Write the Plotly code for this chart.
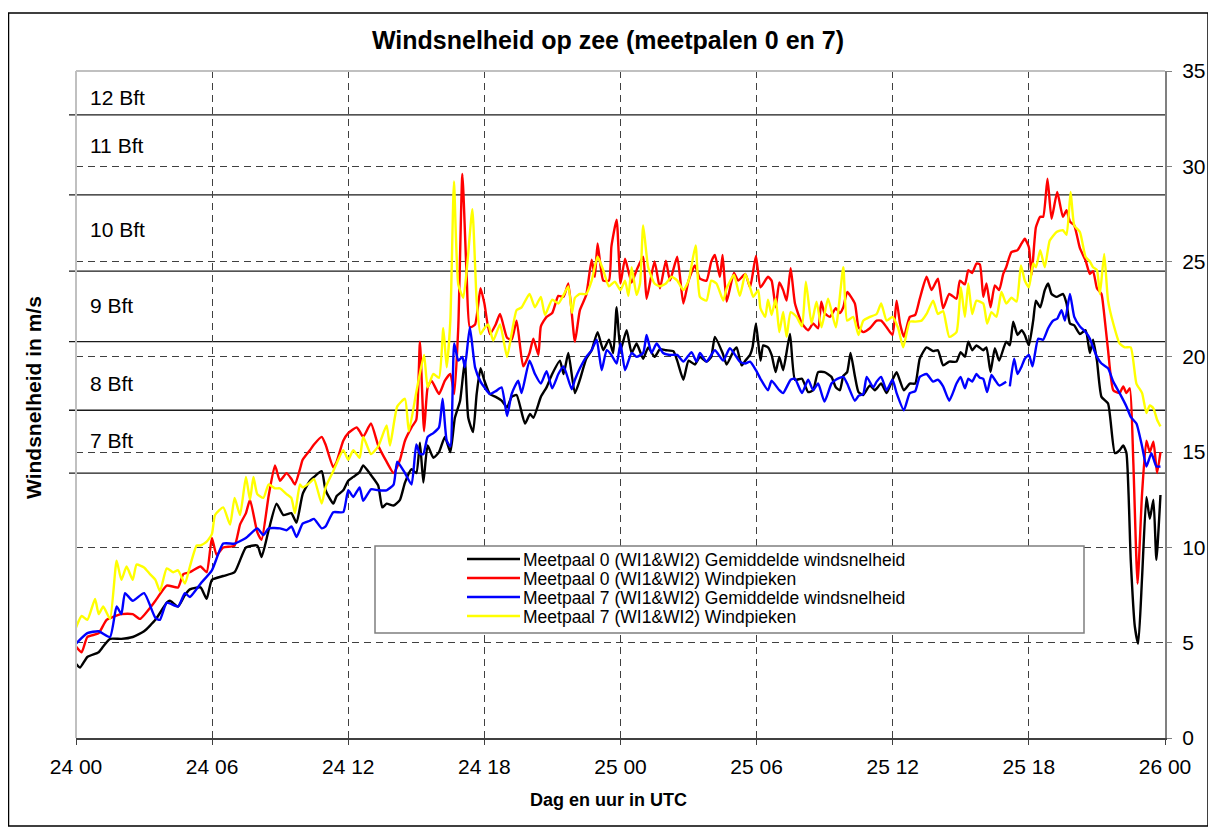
import plotly.graph_objects as go

# ---------------- data (hours since 24 00 UTC, wind speed m/s) ----------------
black_t = [0.00, 0.18, 0.50, 1.00, 1.20, 1.50, 2.00, 2.50, 3.00, 3.50, 4.00, 4.14, 4.50, 4.80, 5.02, 5.49, 5.76, 5.99,
           6.49, 6.99, 7.49, 7.99, 8.18, 8.49, 8.84, 9.14, 9.49, 9.72, 9.99, 10.31, 10.49, 10.83, 11.00, 11.34, 11.49,
           11.78, 12.00, 12.22, 12.50, 12.66, 13.00, 13.32, 13.50, 13.69, 14.00, 14.28, 14.50, 14.79, 15.00, 15.16,
           15.31, 15.50, 15.75, 16.00, 16.26, 16.50, 16.70, 16.93, 17.14, 17.29, 17.50, 17.66, 17.83, 18.00, 18.24,
           18.50, 18.76, 19.00, 19.20, 19.42, 19.79, 20.01, 20.16, 20.49, 20.74, 20.99, 21.33, 21.49, 21.70, 21.99,
           22.21, 22.49, 22.73, 22.99, 23.24, 23.49, 23.68, 23.83, 24.00, 24.27, 24.49, 24.71, 25.00, 25.22, 25.50,
           25.74, 26.00, 26.33, 26.50, 26.77, 27.00, 27.28, 27.50, 27.79, 28.00, 28.16, 28.50, 28.68, 29.00, 29.12,
           29.34, 29.50, 29.71, 29.82, 29.97, 30.17, 30.29, 30.50, 30.66, 30.84, 31.00, 31.17, 31.47, 31.69, 32.00,
           32.27, 32.49, 32.71, 32.99, 33.30, 33.49, 33.67, 33.82, 33.99, 34.14, 34.33, 34.49, 34.70, 34.99, 35.21,
           35.49, 35.73, 35.99, 36.17, 36.49, 36.75, 36.99, 37.19, 37.49, 37.78, 37.99, 38.22, 38.49, 38.81, 38.99,
           39.18, 39.33, 39.50, 39.69, 39.99, 40.13, 40.31, 40.50, 40.69, 41.00, 41.16, 41.31, 41.50, 41.68, 41.82,
           42.00, 42.19, 42.31, 42.50, 42.70, 42.85, 43.00, 43.22, 43.50, 43.66, 43.81, 44.00, 44.25, 44.50, 44.69,
           44.83, 45.00, 45.20, 45.49, 45.79, 46.00, 46.16, 46.30, 46.49, 46.67, 46.82, 46.99, 47.18, 47.33, 47.49,
           47.62, 47.80]
black_v = [3.9, 3.7, 4.25, 4.5, 4.8, 5.2, 5.2, 5.3, 5.6, 6.2, 7.1, 7.2, 6.9, 7.5, 7.8, 7.9, 7.3, 8.3,
           8.5, 8.7, 10.0, 10.1, 9.5, 10.9, 12.3, 11.7, 11.8, 11.3, 12.8, 13.5, 13.7, 14.0, 13.0, 12.3, 12.7,
           13.0, 13.5, 13.7, 13.95, 14.3, 13.8, 13.25, 12.1, 12.3, 12.2, 12.5, 13.4, 14.1, 13.9, 15.5,
           13.4, 15.35, 14.7, 15.0, 15.8, 15.0, 16.8, 17.7, 19.8, 16.8, 16.05, 18.05, 19.4, 18.75, 18.05,
           17.9, 17.7, 17.35, 17.9, 18.0, 16.5, 17.0, 16.8, 17.9, 18.4, 19.1, 19.8, 19.1, 20.2, 18.1,
           18.8, 19.9, 20.35, 21.3, 20.35, 20.9, 20.2, 22.6, 20.35, 21.4, 20.2, 20.7, 19.9, 20.5, 20.0,
           20.4, 20.35, 20.3, 19.8, 18.8, 19.8, 19.6, 20.0, 19.75, 20.0, 21.05, 20.2, 19.6, 20.35, 20.5,
           19.55, 19.8, 20.1, 20.5, 21.75, 19.8, 20.6, 20.5, 20.1, 19.2, 20.0, 19.3, 21.2, 18.8, 18.85,
           18.15, 18.25, 19.2, 19.2, 18.95, 18.4, 18.25, 19.0, 19.2, 20.2, 19.0, 18.15, 18.0, 18.5, 18.25,
           18.6, 18.1, 18.8, 19.2, 18.25, 18.6, 18.6, 19.9, 20.5, 20.3, 20.35, 19.55, 19.75, 19.75, 20.25,
           20.0, 20.8, 20.35, 20.6, 20.35, 20.5, 19.2, 20.45, 19.8, 20.8, 20.6, 21.85, 21.15, 21.4, 21.15,
           20.6, 21.9, 22.95, 22.6, 23.5, 23.85, 23.3, 23.15, 23.3, 22.8, 21.75, 21.65, 21.2, 21.4, 20.2,
           20.9, 19.8, 17.9, 17.55, 14.95, 15.1, 15.35, 14.95, 9.35, 5.85, 4.95, 8.45, 12.65, 11.5, 12.5,
           9.35, 12.75]

red_t = [0.00, 0.25, 0.50, 1.00, 1.35, 2.00, 2.50, 2.82, 3.50, 4.00, 4.50, 4.73, 5.02, 5.49, 5.76, 5.99, 6.20, 6.49,
         6.99, 7.23, 7.49, 7.67, 7.99, 8.18, 8.49, 8.77, 8.99, 9.28, 9.49, 9.65, 9.87, 9.99, 10.31, 10.49, 10.83,
         11.00, 11.34, 11.49, 11.78, 12.00, 12.37, 12.50, 12.66, 13.00, 13.32, 13.69, 14.00, 14.28, 14.50, 14.79,
         15.00, 15.16, 15.34, 15.50, 15.67, 16.00, 16.26, 16.50, 16.67, 16.85, 17.03, 17.22, 17.36, 17.59, 17.83,
         18.00, 18.24, 18.50, 18.69, 19.00, 19.20, 19.42, 19.71, 19.99, 20.16, 20.38, 20.49, 20.74, 20.99, 21.26,
         21.49, 21.70, 21.99, 22.21, 22.49, 22.73, 22.87, 22.99, 23.24, 23.49, 23.60, 23.83, 24.00, 24.20, 24.49,
         24.71, 25.00, 25.15, 25.50, 25.74, 26.00, 26.18, 26.50, 26.77, 27.00, 27.28, 27.50, 27.79, 28.00, 28.16,
         28.38, 28.50, 28.68, 29.00, 29.19, 29.50, 29.71, 29.97, 30.17, 30.50, 30.66, 30.84, 31.00, 31.17, 31.32,
         31.50, 31.69, 32.00, 32.27, 32.49, 32.71, 32.85, 32.99, 33.23, 33.49, 33.67, 33.82, 33.99, 34.33, 34.49,
         34.70, 34.99, 35.29, 35.49, 35.73, 35.99, 36.17, 36.32, 36.49, 36.75, 36.99, 37.19, 37.49, 37.71, 37.99,
         38.22, 38.49, 38.81, 38.96, 39.18, 39.33, 39.50, 39.69, 39.84, 39.99, 40.13, 40.31, 40.50, 40.69, 40.87,
         41.00, 41.23, 41.50, 41.68, 41.82, 42.00, 42.12, 42.31, 42.50, 42.63, 42.82, 43.00, 43.25, 43.50, 43.66,
         43.81, 44.00, 44.25, 44.50, 44.69, 44.83, 45.00, 45.20, 45.30, 45.49, 45.72, 46.00, 46.16, 46.30, 46.45,
         46.60, 46.79, 46.99, 47.18, 47.33, 47.49, 47.65, 47.80]
red_v = [4.8, 4.5, 5.3, 5.5, 6.2, 6.5, 6.5, 6.25, 7.2, 8.0, 7.9, 8.6, 8.7, 9.0, 8.7, 10.5, 9.6, 10.0,
         10.1, 11.2, 11.8, 12.5, 10.8, 10.4, 12.7, 14.3, 13.5, 13.9, 13.6, 13.3, 14.1, 14.6, 15.1, 15.4, 15.8,
         15.4, 14.2, 14.5, 15.6, 16.0, 16.3, 16.1, 15.8, 16.5, 15.35, 14.5, 13.9, 14.6, 15.6, 16.3,
         16.7, 20.8, 16.1, 18.4, 18.75, 18.05, 18.75, 19.1, 18.05, 21.55, 29.6, 24.2, 21.55, 21.7, 23.6,
         22.8, 21.2, 21.7, 22.25, 21.0, 20.9, 21.9, 19.5, 20.2, 20.95, 20.1, 21.6, 22.1, 22.3, 23.2,
         23.15, 23.85, 20.8, 22.45, 23.25, 25.1, 24.2, 25.95, 24.0, 24.0, 25.8, 27.2, 23.85, 25.15, 23.9,
         24.55, 25.25, 23.05, 25.0, 23.6, 25.05, 24.0, 25.25, 22.8, 24.0, 24.8, 24.1, 24.0, 25.0, 25.35,
         24.2, 25.35, 22.9, 24.4, 24.0, 24.35, 23.65, 25.3, 23.65, 24.2, 24.0, 22.6, 23.9, 23.5, 22.95,
         24.65, 22.8, 21.75, 21.4, 21.75, 21.5, 22.9, 22.3, 22.1, 22.55, 22.3, 22.6, 23.4, 22.8, 21.55,
         21.3, 21.5, 21.9, 21.9, 21.55, 21.15, 22.95, 21.75, 21.05, 22.1, 22.2, 23.05, 24.2, 23.5, 24.1,
         22.55, 23.3, 23.05, 24.0, 23.8, 24.55, 24.4, 24.9, 24.85, 23.15, 23.85, 22.6, 23.75, 23.5, 24.35,
         24.7, 25.5, 25.6, 25.95, 26.2, 25.75, 24.3, 26.8, 27.35, 27.35, 29.35, 27.25, 28.65, 27.35, 27.7,
         27.1, 26.9, 25.7, 25.05, 24.35, 24.5, 23.6, 23.3, 22.45, 20.35, 18.25, 18.1, 18.45, 18.1, 18.35,
         14.6, 8.1, 12.85, 15.6, 15.0, 15.55, 13.9, 15.0]

blue_t = [0.00, 0.50, 1.00, 1.50, 1.79, 2.00, 2.16, 2.50, 3.00, 3.50, 3.70, 4.00, 4.50, 4.80, 5.02, 5.49, 5.99, 6.49,
          6.99, 7.49, 7.99, 8.26, 8.49, 8.99, 9.28, 9.50, 9.72, 9.99, 10.31, 10.49, 10.83, 11.00, 11.34, 11.78,
          12.00, 12.22, 12.50, 12.66, 13.00, 13.32, 13.69, 14.00, 14.16, 14.50, 14.79, 15.00, 15.16, 15.31, 15.50,
          15.75, 16.00, 16.16, 16.34, 16.50, 16.67, 16.85, 17.03, 17.14, 17.36, 17.59, 17.83, 18.00, 18.24, 18.50,
          18.76, 19.00, 19.20, 19.49, 19.64, 19.99, 20.23, 20.49, 20.74, 20.99, 21.26, 21.49, 21.85, 21.99, 22.21,
          22.49, 22.73, 22.95, 23.17, 23.39, 23.60, 23.83, 24.00, 24.20, 24.49, 24.71, 25.00, 25.15, 25.37, 25.59,
          25.88, 26.18, 26.50, 26.77, 27.13, 27.35, 27.50, 27.79, 28.16, 28.53, 28.82, 29.26, 29.50, 29.71, 29.97,
          30.17, 30.50, 30.66, 31.00, 31.17, 31.50, 31.69, 32.00, 32.27, 32.49, 32.71, 32.99, 33.30, 33.49, 33.82,
          33.99, 34.33, 34.49, 34.70, 34.85, 35.14, 35.29, 35.49, 35.73, 35.99, 36.17, 36.49, 36.75, 36.99, 37.19,
          37.49, 37.78, 37.99, 38.22, 38.49, 38.81, 38.99, 39.18, 39.33, 39.50, 39.69, 39.84, 39.99, 40.16, 40.35,
          40.50, 40.69, 41.00, 41.08, 41.16, 41.35, 41.50, 41.68, 41.82, 42.00, 42.16, 42.41, 42.63, 42.85, 43.07,
          43.25, 43.44, 43.59, 43.81, 44.00, 44.25, 44.50, 44.69, 44.83, 45.00, 45.20, 45.49, 45.72, 46.00, 46.30,
          46.49, 46.74, 46.99, 47.18, 47.40, 47.62, 47.80]
blue_v = [4.95, 5.5, 5.6, 5.3, 6.9, 6.5, 7.6, 7.2, 7.6, 6.3, 6.2, 7.1, 6.9, 7.6, 7.4, 8.1, 8.8, 10.2,
          10.2, 10.5, 11.0, 10.65, 11.0, 11.0, 10.9, 11.1, 10.55, 11.25, 11.4, 11.5, 11.0, 11.1, 11.85, 11.85,
          13.0, 12.65, 13.15, 12.45, 13.05, 13.0, 13.0, 13.3, 14.5, 13.9, 13.3, 15.4, 14.9, 14.9, 15.8,
          16.0, 16.3, 17.8, 15.6, 15.3, 20.7, 19.8, 20.0, 19.45, 21.55, 19.45, 18.7, 18.4, 18.05, 18.2,
          18.4, 16.9, 18.05, 18.75, 18.1, 19.8, 19.1, 18.6, 19.25, 18.35, 19.1, 19.5, 18.3, 18.8, 19.4,
          20.0, 20.35, 20.9, 19.3, 20.35, 20.1, 19.65, 20.7, 19.3, 20.2, 20.0, 20.2, 21.15, 20.2, 20.7,
          20.2, 20.1, 20.1, 19.75, 20.25, 19.75, 20.2, 19.75, 20.35, 19.8, 20.45, 19.75, 19.65, 19.75, 19.3,
          18.85, 18.25, 18.75, 18.25, 18.1, 18.8, 18.85, 18.1, 18.8, 18.25, 18.6, 17.65, 18.6, 18.8, 18.95,
          18.6, 17.7, 17.95, 18.05, 18.95, 18.4, 18.7, 18.95, 18.25, 18.8, 18.1, 17.2, 18.1, 18.2, 18.95,
          19.1, 18.7, 18.8, 18.45, 17.7, 18.6, 18.95, 18.35, 18.85, 18.7, 19.1, 18.9, 18.85, 18.15, 19.05,
          18.8, 18.5, 18.7, None, 18.45, 19.9, 19.1, 19.5, 19.9, 20.1, 19.5, 20.95, 20.9, 21.5, 21.9,
          22.0, 22.45, 21.9, 23.3, 22.1, 21.6, 21.3, 20.95, 20.5, 20.0, 19.65, 19.4, 18.7, 18.1, 17.4,
          16.85, 16.5, 15.3, 14.25, 14.95, 14.25, 14.25]

yellow_t = [0.00, 0.25, 0.50, 0.84, 1.00, 1.20, 1.50, 1.79, 2.00, 2.23, 2.50, 2.67, 3.00, 3.26, 3.50, 3.70, 4.00, 4.29,
            4.50, 4.80, 5.02, 5.32, 5.49, 5.76, 5.99, 6.13, 6.49, 6.79, 6.99, 7.23, 7.49, 7.67, 7.82, 7.99, 8.26,
            8.49, 8.77, 8.99, 9.28, 9.49, 9.65, 9.87, 9.99, 10.31, 10.49, 10.83, 11.00, 11.34, 11.78, 12.00, 12.22,
            12.50, 12.66, 13.00, 13.32, 13.69, 13.84, 14.16, 14.50, 14.67, 15.00, 15.34, 15.50, 15.75, 16.00, 16.19,
            16.34, 16.50, 16.66, 16.85, 17.07, 17.26, 17.47, 17.66, 17.83, 18.00, 18.17, 18.39, 18.69, 19.00, 19.20,
            19.42, 19.64, 19.99, 20.23, 20.49, 20.67, 20.99, 21.26, 21.49, 21.70, 21.86, 21.99, 22.21, 22.49, 22.73,
            22.99, 23.24, 23.49, 23.75, 24.00, 24.20, 24.35, 24.49, 24.71, 24.86, 25.00, 25.22, 25.50, 25.74, 26.00,
            26.25, 26.50, 26.77, 27.00, 27.31, 27.50, 27.79, 28.00, 28.23, 28.53, 28.68, 29.00, 29.26, 29.50, 29.71,
            29.85, 30.07, 30.17, 30.38, 30.50, 30.66, 30.84, 31.00, 31.17, 31.32, 31.50, 31.76, 32.00, 32.17, 32.42,
            32.64, 32.86, 33.15, 33.49, 33.82, 33.99, 34.26, 34.49, 34.70, 34.99, 35.29, 35.49, 35.73, 35.99, 36.24,
            36.46, 36.75, 36.99, 37.27, 37.49, 37.78, 37.99, 38.22, 38.49, 38.81, 39.00, 39.18, 39.33, 39.50, 39.69,
            39.99, 40.16, 40.35, 40.57, 40.79, 41.00, 41.23, 41.46, 41.65, 41.82, 42.00, 42.19, 42.31, 42.50, 42.70,
            42.92, 43.22, 43.50, 43.66, 43.84, 44.00, 44.25, 44.50, 44.69, 44.83, 45.00, 45.13, 45.32, 45.49, 45.72,
            46.00, 46.23, 46.49, 46.74, 46.99, 47.18, 47.33, 47.49, 47.65, 47.80]
yellow_v = [5.8, 6.4, 6.2, 7.3, 6.5, 6.9, 6.25, 9.3, 8.3, 9.0, 8.3, 9.1, 8.95, 8.6, 8.3, 7.7, 8.9, 8.7,
            8.8, 8.1, 9.0, 10.1, 10.1, 10.3, 10.7, 11.7, 12.1, 11.2, 12.6, 11.7, 13.7, 12.5, 13.7, 12.8, 12.6,
            13.3, 13.1, 13.1, 12.8, 12.6, 11.8, 13.3, 13.15, 13.4, 13.6, 12.3, 13.15, 14.0, 15.1, 14.6, 15.1,
            14.7, 15.8, 14.9, 15.3, 16.4, 15.35, 17.4, 17.8, 16.1, 18.15, 20.1, 18.4, 19.1, 18.9, 21.5,
            19.45, 21.9, 29.2, 23.8, 23.1, 25.05, 27.75, 22.95, 21.2, 21.5, 21.7, 20.85, 21.7, 20.0, 21.2,
            22.45, 22.6, 23.3, 22.6, 23.15, 22.2, 23.0, 22.8, 23.25, 23.7, 22.3, 23.1, 23.3, 23.3, 24.0,
            25.25, 24.55, 23.7, 23.95, 23.5, 24.0, 23.2, 24.7, 23.25, 23.85, 26.9, 24.7, 23.85, 23.7, 23.85,
            24.2, 24.0, 23.5, 24.0, 25.85, 23.15, 22.95, 24.0, 23.85, 22.95, 23.6, 24.3, 23.2, 24.35, 23.65,
            23.15, 23.5, 22.55, 22.1, 23.0, 22.2, 23.05, 21.3, 22.35, 21.05, 22.35, 22.1, 21.6, 23.95, 21.75,
            22.9, 21.55, 23.05, 21.55, 24.7, 21.9, 22.1, 21.15, 21.9, 22.1, 22.25, 22.8, 21.9, 22.1, 21.5,
            20.5, 21.85, 21.85, 21.9, 22.25, 22.95, 22.25, 22.4, 21.05, 21.3, 23.65, 22.1, 23.85, 22.25, 22.95,
            22.8, 21.75, 22.35, 22.1, 23.4, 22.8, 23.1, 22.9, 24.8, 24.0, 23.65, 24.9, 24.7, 25.6, 24.7,
            26.1, 26.55, 26.65, 26.4, 28.65, 26.9, 26.55, 25.25, 25.0, 24.7, 24.55, 23.3, 25.4, 22.95, 21.75,
            20.7, 20.5, 20.5, 18.6, 18.1, 17.05, 17.45, 17.3, 16.7, 16.35]

series_names = ["Meetpaal 0 (WI1&WI2) Gemiddelde windsnelheid",
                "Meetpaal 0 (WI1&WI2) Windpieken",
                "Meetpaal 7 (WI1&WI2) Gemiddelde windsnelheid",
                "Meetpaal 7 (WI1&WI2) Windpieken"]
series_colors = ["#000000", "#ff0000", "#0000ff", "#ffff00"]

tick_hours = [0, 6, 12, 18, 24, 30, 36, 42, 48]
tick_labels = ["24 00", "24 06", "24 12", "24 18", "25 00", "25 06", "25 12", "25 18", "26 00"]

bft_bounds = [13.9, 17.2, 20.8, 24.5, 28.5, 32.7]
bft_labels = ["7 Bft", "8 Bft", "9 Bft", "10 Bft", "11 Bft", "12 Bft"]
y_max = 35

# ---------------- layout helpers ----------------
# the page body has an 8px margin, so the figure is placed at page (8, 8)
OFF = 8
PAGE_W, PAGE_H = 1216, 827
W, H = PAGE_W - OFF, PAGE_H - OFF
L, R, T, B = 76, 1165, 71, 738          # plot area in page pixels


def px(X):
    return (X - L) / (R - L)


def py(Y):
    return (B - Y) / (B - T)


FONT = "Liberation Sans, Arial, sans-serif"

fig = go.Figure()
for name, t, v, c in zip(series_names, [black_t, red_t, blue_t, yellow_t],
                         [black_v, red_v, blue_v, yellow_v], series_colors):
    fig.add_trace(go.Scatter(x=t, y=v, mode="lines", name=name,
                             line=dict(color=c, width=2.4, shape="spline", smoothing=0.5),
                             connectgaps=False, showlegend=False))

shapes = []
for b in bft_bounds:
    shapes.append(dict(type="line", xref="paper", yref="y", x0=px(69), x1=1, y0=b, y1=b,
                       line=dict(color="#1a1a1a", width=1.4), layer="below"))
# plot-area border (left + top, light grey)
shapes.append(dict(type="line", xref="paper", yref="paper", x0=0, x1=0, y0=0, y1=1,
                   line=dict(color="#c0c0c0", width=2), layer="above"))
shapes.append(dict(type="line", xref="paper", yref="paper", x0=0, x1=1, y0=1, y1=1,
                   line=dict(color="#c0c0c0", width=2), layer="above"))
# legend box
shapes.append(dict(type="rect", xref="paper", yref="paper", x0=px(375), x1=px(1084), y0=py(633), y1=py(546),
                   fillcolor="white", line=dict(color="#7f7f7f", width=1.5), layer="above"))
# outer frame
shapes.append(dict(type="rect", xref="paper", yref="paper", x0=px(8.5), x1=px(1208), y0=py(826), y1=py(13),
                   line=dict(color="#000000", width=1.5), layer="above"))

annotations = []
# legend entries (sample line + label)
entry_y = [559, 578, 597, 616]
for i, (name, c) in enumerate(zip(series_names, series_colors)):
    shapes.append(dict(type="line", xref="paper", yref="paper", x0=px(467), x1=px(520),
                       y0=py(entry_y[i]), y1=py(entry_y[i]), line=dict(color=c, width=2.5), layer="above"))
    annotations.append(dict(text=name, xref="paper", yref="paper", x=px(522), y=py(entry_y[i] + 1),
                            xanchor="left", yanchor="middle", showarrow=False, borderpad=0,
                            font=dict(family=FONT, size=17.5, color="#000000")))

bft_label_y = [15.6, 18.6, 22.7, 26.7, 31.1, 33.6]
for lab, yy in zip(bft_labels, bft_label_y):
    annotations.append(dict(text=lab, xref="paper", yref="y", x=px(88), y=yy,
                            xanchor="left", yanchor="middle", showarrow=False,
                            font=dict(family=FONT, size=21, color="#000000")))
annotations.append(dict(text="<b>Windsnelheid in m/s</b>", xref="paper", yref="paper", x=px(33), y=py(398),
                        textangle=-90, showarrow=False, xanchor="center", yanchor="middle",
                        font=dict(family=FONT, size=21, color="#000000")))
annotations.append(dict(text="<b>Dag en uur in UTC</b>", xref="paper", yref="paper", x=px(608), y=py(800),
                        showarrow=False, xanchor="center", yanchor="middle",
                        font=dict(family=FONT, size=18, color="#000000")))

fig.update_layout(
    width=W, height=H,
    margin=dict(l=L - OFF, r=PAGE_W - R, t=T - OFF, b=PAGE_H - B, pad=0, autoexpand=False),
    paper_bgcolor="white", plot_bgcolor="white",
    font=dict(family=FONT, size=21, color="#000000"),
    title=dict(text="<b>Windsnelheid op zee (meetpalen 0 en 7)</b>", x=(608 - OFF) / W, xref="container",
               xanchor="center", y=1 - (40 - OFF) / H, yref="container", yanchor="middle",
               font=dict(family=FONT, size=25, color="#000000")),
    xaxis=dict(range=[0, 48], tickvals=tick_hours, ticktext=tick_labels, automargin=False,
               showgrid=True, gridcolor="#404040", gridwidth=1, griddash="7px,5px",
               showline=True, linecolor="#404040", linewidth=2,
               ticks="outside", ticklen=5, tickcolor="#404040", ticklabelstandoff=4,
               zeroline=False, tickfont=dict(family=FONT, size=21)),
    yaxis=dict(range=[0, y_max], dtick=5, side="right", automargin=False,
               showgrid=True, gridcolor="#404040", gridwidth=1, griddash="7px,5px",
               showline=True, linecolor="#808080", linewidth=2,
               ticks="outside", ticklen=5, tickcolor="#808080", ticklabelstandoff=6,
               zeroline=False, tickfont=dict(family=FONT, size=21)),
    shapes=shapes, annotations=annotations,
    showlegend=False,
)

fig.write_html("out.html")
